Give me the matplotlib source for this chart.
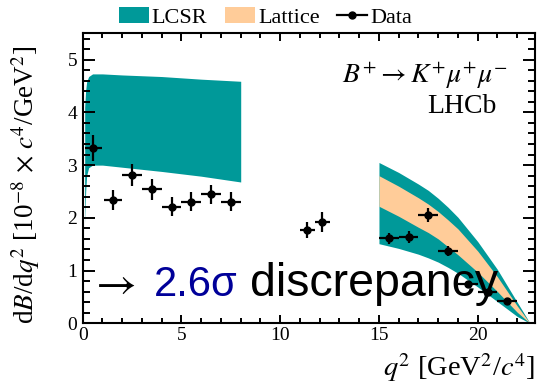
import numpy as np
import matplotlib
matplotlib.use("Agg")
import matplotlib.pyplot as plt
from matplotlib.patches import Patch
from matplotlib.lines import Line2D
from matplotlib.ticker import MultipleLocator

# Measured differential branching fraction (10^-8 c^4/GeV^2) in q^2 bins
bin_lo = [0.1, 1.1, 2.0, 3.0, 4.0, 5.0, 6.0, 7.0, 11.0, 11.75, 15.0, 16.0, 17.0, 18.0, 19.0, 20.0, 21.0]
bin_hi = [0.98, 2.0, 3.0, 4.0, 5.0, 6.0, 7.0, 8.0, 11.75, 12.5, 16.0, 17.0, 18.0, 19.0, 20.0, 21.0, 22.0]
dbdq2 = [3.32, 2.33, 2.82, 2.54, 2.21, 2.31, 2.45, 2.31, 1.77, 1.93, 1.61, 1.64, 2.06, 1.37, 0.74, 0.59, 0.43]
dbdq2_err = [0.25, 0.19, 0.21, 0.20, 0.18, 0.18, 0.18, 0.18, 0.16, 0.19, 0.11, 0.11, 0.13, 0.10, 0.06, 0.05, 0.04]

# Low-q^2 light-cone sum rule prediction band
lcsr_low_q2 = [0.1, 0.15, 0.2, 0.3, 0.5, 1.0, 2.0, 4.0, 6.0, 8.0]
lcsr_low_hi = [4.10, 4.42, 4.58, 4.68, 4.73, 4.73, 4.71, 4.68, 4.63, 4.59]
lcsr_low_lo = [1.90, 2.50, 2.80, 2.95, 3.00, 3.00, 2.96, 2.88, 2.79, 2.68]

# High-q^2 predictions: outer LCSR band and inner lattice band
high_q2 = [15.0, 16.0, 17.0, 17.5, 18.0, 18.5, 19.0, 20.0, 21.0, 22.0, 22.65]
lcsr_high_hi = [3.05, 2.86, 2.64, 2.52, 2.37, 2.20, 2.01, 1.55, 1.02, 0.40, 0.0]
latt_high_hi = [2.80, 2.60, 2.38, 2.26, 2.12, 1.96, 1.79, 1.37, 0.88, 0.33, 0.0]
latt_high_lo = [2.22, 2.03, 1.82, 1.72, 1.60, 1.45, 1.30, 0.97, 0.60, 0.21, 0.0]
lcsr_high_lo = [1.51, 1.42, 1.31, 1.24, 1.16, 1.06, 0.95, 0.69, 0.41, 0.13, 0.0]

legend_labels = ["LCSR", "Lattice", "Data"]

TEAL = "#009999"
PEACH = "#FFCC99"
NAVY = "#000099"

plt.rcParams["font.family"] = ["Liberation Serif", "DejaVu Serif"]
plt.rcParams["mathtext.fontset"] = "stix"

W, H = 539, 386
fig = plt.figure(figsize=(W / 100, H / 100), dpi=100)
x0, x1, y0, y1 = 82.7, 535.0, 323.3, 33.3
ax = fig.add_axes([x0 / W, 1 - y0 / H, (x1 - x0) / W, (y0 - y1) / H])

ax.fill_between(lcsr_low_q2, lcsr_low_lo, lcsr_low_hi, color=TEAL, lw=0, zorder=1)
ax.fill_between(high_q2, lcsr_high_lo, lcsr_high_hi, color=TEAL, lw=0, zorder=1)
ax.fill_between(high_q2, latt_high_lo, latt_high_hi, color=PEACH, lw=0, zorder=2)

lo = np.array(bin_lo)
hi = np.array(bin_hi)
xc = 0.5 * (lo + hi)
ax.errorbar(xc, dbdq2, yerr=dbdq2_err, xerr=[xc - lo, hi - xc], fmt="o",
            color="black", ms=5, elinewidth=1.6, capsize=0, zorder=5)

ax.set_xlim(0, 22.9)
ax.set_ylim(0, 5.5)
ax.xaxis.set_major_locator(MultipleLocator(5))
ax.xaxis.set_minor_locator(MultipleLocator(1))
ax.yaxis.set_major_locator(MultipleLocator(1))
ax.yaxis.set_minor_locator(MultipleLocator(0.2))
for s in ax.spines.values():
    s.set_linewidth(1.5)
ax.tick_params(axis="both", which="both", direction="in", top=True, right=True,
               width=1.4, labelsize=14)
ax.tick_params(axis="x", which="major", length=6, pad=3)
ax.tick_params(axis="x", which="minor", length=3.5)
ax.tick_params(axis="y", which="major", length=8.6, pad=4)
ax.tick_params(axis="y", which="minor", length=4.7)

fig.text(26 / W, 1 - 185 / H,
         r"d$B$/d$q^2$ [10$^{-8}$ $\times$ $c^4$/GeV$^2$]",
         rotation=90, ha="center", va="center", fontsize=19.5)
fig.text(x1 / W, 1 - 368 / H, r"$q^2$ [GeV$^2$/$c^4$]",
         ha="right", va="center", fontsize=20.5)

ax.text(0.940, 0.829, r"$B^{+}\rightarrow K^{+}\mu^{+}\mu^{-}$",
        transform=ax.transAxes, ha="right", va="baseline", fontsize=20)
ax.text(0.916, 0.725, "LHCb", transform=ax.transAxes, ha="right",
        va="baseline", fontsize=20)

# Discrepancy annotation
ax.text(0.30, 0.52, r"$\rightarrow$", ha="left", va="baseline",
        fontsize=32, color="black", zorder=6)
ax.text(3.61, 0.52, "2.6\u03c3", ha="left", va="baseline", color=NAVY,
        fontsize=30, family=["Liberation Sans", "DejaVu Sans"], zorder=6)
ax.text(8.45, 0.52, "discrepancy", ha="left", va="baseline", color="black",
        fontsize=33.5, family=["Liberation Sans", "DejaVu Sans"], zorder=6)

handles = [Patch(facecolor=TEAL, edgecolor="none"),
           Patch(facecolor=PEACH, edgecolor="none"),
           Line2D([], [], color="black", marker="o", ms=5, lw=1.6)]
fig.legend(handles, legend_labels, loc="center", bbox_to_anchor=(265.5 / W, 1 - 17.5 / H),
           ncol=3, frameon=False, fontsize=16, handlelength=1.35, handleheight=0.7,
           handletextpad=0.12, columnspacing=0.8, borderpad=0, borderaxespad=0)

fig.savefig("out.png", dpi=100)
